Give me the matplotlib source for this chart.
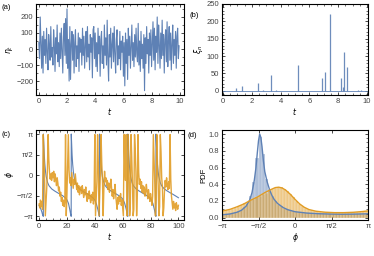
import numpy as np
import matplotlib
matplotlib.use('Agg')
import matplotlib.pyplot as plt
from matplotlib.ticker import MultipleLocator, FixedLocator

plt.rcParams['font.family'] = ['Liberation Sans', 'DejaVu Sans']
plt.rcParams['font.size'] = 5.5
plt.rcParams['mathtext.fontset'] = 'dejavusans'

BLUE = '#5E81B5'
ORANGE = '#E19C24'
TICKCOL = '#444444'

# ---------------- data ----------------
# (a) noise eta_t, sampled every 0.05 from t=0 to t=9.95
eta = [
    40, -60, 200, 30, -120, 80, -150, 110, -40, 60, -90, 130, -20, -130, 90, 20, -70, 140, -50, 10,
    -100, 120, 30, -140, 70, -30, 150, -80, 40, -110, 100, -60, 130, 0, -150, 80, 160, -40, 190, -90,
    250, -120, 60, -200, 140, -190, 30, 110, -70, 90, -150, 40, 120, -110, 20, -60, 100, -140, 70, -20,
    60, -100, 130, -40, 80, -120, 20, 110, -80, 140, -50, 30, -130, 90, -20, 70, -180, 120, 140, -60,
    100, -110, 40, -140, 130, -30, 80, -170, 60, 110, -90, 20, -120, 150, -40, 70, -100, 180, -60, -200,
    90, -50, 130, -120, 30, 100, -80, 140, -30, -150, 60, 120, -100, 20, -60, 110, -130, 50, -20, 80,
    -170, 40, -230, 100, -90, 60, -190, 130, -40, 80, -120, 20, 150, -70, 40, -110, 90, -50, 130, -30,
    -80, 160, -100, 50, -140, 110, -60, 30, -120, 90, -260, 70, -90, 140, -30, 60, -150, 100, -40, 120,
    -110, 40, 170, -70, 130, -130, 80, -20, 200, -90, 150, 30, -120, 100, -60, 180, -40, 90, -150, 60,
    120, -80, 170, -110, 50, 140, -70, 100, -130, 30, 150, -90, 60, -40, 110, -120, 80, 130, -60, 20,
]
t_a = np.arange(len(eta)) * 0.05

# (b) kicks xi_n
spike_t = [0.9, 1.3, 2.45, 2.75, 3.35, 3.65, 5.2, 6.9, 7.05, 7.4, 8.2, 8.3, 8.4, 8.6, 9.4, 9.6]
spike_h = [8, 14, 22, 3, 47, 3, 75, 36, 54, 222, 38, 12, 113, 70, 2, 2]

# (c) phase, blue (deterministic) and orange (noisy)
blue_t = [0, 1, 2, 2.6, 3.05,
          3.1, 3.4, 3.7, 4.1, 4.6, 5.1, 6.1, 7.1, 9.1, 11.1, 13.1, 15.1, 17.1, 19.1, 20.1, 21.1, 22.0, 22.6, 23.05,
          23.1, 23.4, 23.7, 24.1, 24.6, 25.1, 26.1, 27.1, 29.1, 31.1, 33.1, 35.1, 37.1, 39.1, 40.1, 41.1, 42.2, 42.9, 43.35,
          43.4, 43.7, 44.0, 44.4, 44.9, 45.4, 46.4, 47.4, 49.4, 51.4, 53.4, 55.4, 57.4, 59.4, 60.4, 61.4, 62.5, 63.2, 63.65,
          63.7, 64.0, 64.3, 64.7, 65.2, 65.7, 66.7, 67.7, 69.7, 71.7, 73.7, 75.7, 77.7, 79.7, 80.7, 81.7, 82.7, 83.4, 83.85,
          83.9, 84.2, 84.5, 84.9, 85.4, 85.9, 86.9, 87.9, 89.9, 91.9, 93.9, 95.9, 97.9, 100]
blue_phi = [-2.3, -2.5, -2.8, -3.05, -3.14,
            3.14, 2.4, 1.6, 0.9, 0.3, -0.1, -0.55, -0.8, -1.05, -1.2, -1.33, -1.45, -1.58, -1.75, -1.9, -2.15, -2.6, -2.95, -3.14,
            3.14, 2.35, 1.55, 0.85, 0.28, -0.12, -0.57, -0.82, -1.06, -1.21, -1.34, -1.46, -1.6, -1.77, -1.92, -2.18, -2.62, -2.96, -3.14,
            3.14, 2.42, 1.62, 0.92, 0.31, -0.09, -0.54, -0.79, -1.04, -1.19, -1.32, -1.44, -1.57, -1.74, -1.89, -2.14, -2.58, -2.94, -3.14,
            3.14, 2.38, 1.58, 0.88, 0.29, -0.11, -0.56, -0.81, -1.05, -1.2, -1.33, -1.45, -1.59, -1.76, -1.91, -2.16, -2.6, -2.95, -3.14,
            3.14, 2.4, 1.6, 0.9, 0.3, -0.1, -0.55, -0.8, -1.05, -1.2, -1.33, -1.45, -1.58, -1.72]

# orange phase, sampled every 0.5 from t=0 to t=100
orange_phi = [
    -2.2, -2.5, -1.9, -2.4, -2.0, -2.6, 3.1, 1.5, -0.5, -3.1, -2.0, -1.0, 0.5, 3.1, 1.2, 0.2, -0.3, 0.1, -0.4, 0.2,
    -0.2, 0.3, -0.5, 0.1, -0.3, -0.8, -0.2, -0.6, -1.2, -0.9, -1.6, -1.3, -2.0, -1.7, -2.3, -1.9, -2.4, -2.0, 3.1, -3.1,
    -1.5, 0.8, 3.1, 0.4, -0.6, -0.2, -0.8, 0.2, -0.4, -1.0, -0.3, -0.7, 0.1, -0.5, -1.1, -0.6, -1.3, -0.8, -1.5, -1.0,
    -0.9, -1.4, -0.8, -1.2, -1.7, -1.1, -1.5, -0.9, -1.6, -2.0, -1.4, -1.8, -1.2, -1.7, -2.1, -1.5, -1.9, -1.3, -2.2, -1.6,
    3.1, -3.1, -1.8, -0.5, 3.1, 1.0, -3.1, -1.4, 0.2, 3.1, 0.9, -0.4, -3.1, -1.0, 0.3, -0.5, -0.2, -0.8, -0.4, -1.1,
    -0.6, -1.3, -0.9, -0.3, -1.0, -1.6, -1.1, -1.8, -1.3, -0.7, -1.5, -2.1, -2.6, -1.7, -2.2, -1.6, -2.0, -1.4, -2.3, -1.9,
    -2.5, -3.1, 3.1, 0.8, -0.4, 3.1, -3.1, -1.2, 3.1, 0.5, -3.1, -2.2, 3.1, 1.4, -0.6, -3.1, -2.6, 3.1, 2.0, 0.3,
    -3.1, -1.5, 3.1, 0.2, -0.7, -0.3, -1.0, -0.5, -1.3, -0.8, -1.4, -0.9, -1.6, -1.2, -0.7, -1.3, -1.8, -1.1, -1.5, -2.0,
    -1.4, -1.8, -2.3, -1.6, 3.1, 1.2, -0.5, -3.1, -1.9, 3.1, 0.6, -0.8, -3.1, -2.4, 3.1, 1.8, -0.2, -0.9, -3.1, -2.5,
    -1.2, -0.4, -0.9, -0.2, -0.7, -1.1, -0.5, -1.0, 3.1, -0.3, -1.6, -2.1, -2.6, -2.0, -2.5, -2.2, -2.7, -2.1, -2.4, -2.6, -2.3,
]
t_o = np.arange(len(orange_phi)) * 0.5

# (d) histograms (48 bins on [-pi, pi]) and PDF curves
hist_blue = [0.036, 0.041, 0.044, 0.052, 0.058, 0.077, 0.088, 0.128, 0.166, 0.255, 0.43, 0.71,
             0.97, 0.76, 0.46, 0.345, 0.255, 0.205, 0.158, 0.138, 0.108, 0.102, 0.088, 0.077,
             0.069, 0.067, 0.059, 0.058, 0.054, 0.053, 0.049, 0.048, 0.046, 0.047, 0.043, 0.044,
             0.042, 0.043, 0.041, 0.042, 0.041, 0.043, 0.042, 0.044, 0.043, 0.045, 0.046, 0.047]
hist_orange = [0.082, 0.091, 0.098, 0.11, 0.12, 0.137, 0.148, 0.172, 0.183, 0.207, 0.218, 0.247,
               0.258, 0.283, 0.298, 0.327, 0.338, 0.357, 0.363, 0.362, 0.343, 0.322, 0.283, 0.247,
               0.198, 0.167, 0.138, 0.117, 0.099, 0.091, 0.081, 0.077, 0.071, 0.069, 0.064, 0.064,
               0.061, 0.062, 0.06, 0.061, 0.06, 0.064, 0.063, 0.067, 0.068, 0.074, 0.076, 0.082]

pdf_blue_x = [-3.14, -2.8, -2.5, -2.3, -2.1, -1.95, -1.85, -1.75, -1.68, -1.62, -1.57, -1.52, -1.47,
              -1.42, -1.36, -1.3, -1.2, -1.1, -1.0, -0.9, -0.75, -0.5, -0.3, 0.0, 0.5, 1.0, 1.5,
              2.0, 2.5, 3.14]
pdf_blue_y = [0.035, 0.045, 0.065, 0.09, 0.14, 0.21, 0.3, 0.45, 0.6, 0.78, 0.92, 1.0, 0.96,
              0.85, 0.68, 0.55, 0.43, 0.34, 0.27, 0.22, 0.17, 0.12, 0.095, 0.072, 0.056, 0.048, 0.044,
              0.042, 0.043, 0.047]
pdf_orange_x = [-3.14, -2.8, -2.5, -2.2, -1.9, -1.6, -1.3, -1.05, -0.85, -0.7, -0.55, -0.4, -0.2,
                0.0, 0.2, 0.4, 0.6, 0.9, 1.3, 1.7, 2.1, 2.5, 2.9, 3.14]
pdf_orange_y = [0.08, 0.1, 0.13, 0.165, 0.21, 0.25, 0.3, 0.335, 0.36, 0.365, 0.355, 0.33, 0.28,
                0.22, 0.165, 0.125, 0.098, 0.078, 0.066, 0.061, 0.061, 0.065, 0.074, 0.082]


def style_axes(ax):
    for sp in ax.spines.values():
        sp.set_linewidth(0.8)
        sp.set_color('black')
    ax.tick_params(which='both', direction='in', top=True, right=True,
                   colors='black', labelcolor=TICKCOL, labelsize=5.5, pad=2)
    ax.tick_params(which='major', length=2.2, width=0.5)
    ax.tick_params(which='minor', length=1.2, width=0.4)


fig = plt.figure(figsize=(3.74, 2.56), dpi=100)
W, H = 374.0, 256.0
ax_a = fig.add_axes([36 / W, 1 - 95 / H, 148 / W, 91 / H])
ax_b = fig.add_axes([222 / W, 1 - 95 / H, 146 / W, 91 / H])
ax_c = fig.add_axes([36 / W, 1 - 220 / H, 148 / W, 90 / H])
ax_d = fig.add_axes([222 / W, 1 - 220 / H, 146 / W, 90 / H])

# (a)
ax_a.plot(t_a, eta, color=BLUE, lw=0.8)
ax_a.set_xlim(-0.2, 10.3)
ax_a.set_ylim(-287, 281)
ax_a.xaxis.set_major_locator(MultipleLocator(2))
ax_a.xaxis.set_minor_locator(MultipleLocator(0.5))
ax_a.yaxis.set_major_locator(MultipleLocator(100))
ax_a.yaxis.set_minor_locator(MultipleLocator(50))
ax_a.set_xlabel('$t$', labelpad=1)
ax_a.set_ylabel(r'$\eta_t$', labelpad=1)
style_axes(ax_a)

# (b)
ax_b.plot([0, 10], [0, 0], color=BLUE, lw=0.6)
ax_b.vlines(spike_t, 0, spike_h, color=BLUE, lw=0.9, alpha=0.9)
ax_b.set_xlim(-0.07, 10.07)
ax_b.set_ylim(-12, 250)
ax_b.xaxis.set_major_locator(MultipleLocator(2))
ax_b.xaxis.set_minor_locator(MultipleLocator(0.5))
ax_b.yaxis.set_major_locator(MultipleLocator(50))
ax_b.yaxis.set_minor_locator(MultipleLocator(10))
ax_b.set_xlabel('$t$', labelpad=1)
ax_b.set_ylabel(r'$\xi_n$', labelpad=1)
style_axes(ax_b)

# (c)
ax_c.plot(blue_t, blue_phi, color=BLUE, lw=0.8)
ax_c.plot(t_o, orange_phi, color=ORANGE, lw=1.0, alpha=0.9)
ax_c.set_xlim(-2.2, 104)
ax_c.set_ylim(-3.42, 3.45)
ax_c.xaxis.set_major_locator(MultipleLocator(20))
ax_c.xaxis.set_minor_locator(MultipleLocator(5))
ax_c.yaxis.set_major_locator(FixedLocator([-np.pi, -np.pi / 2, 0, np.pi / 2, np.pi]))
ax_c.set_yticklabels(['−π', '−π/2', '0', 'π/2', 'π'])
ax_c.set_xlabel('$t$', labelpad=1)
ax_c.set_ylabel(r'$\phi$', labelpad=1)
style_axes(ax_c)

# (d)
edges = np.linspace(-np.pi, np.pi, len(hist_blue) + 1)
centers = 0.5 * (edges[:-1] + edges[1:])
bw = edges[1] - edges[0]
ax_d.bar(centers, hist_blue, width=bw, color=BLUE, alpha=0.5,
         edgecolor=(1, 1, 1, 0.35), linewidth=0.3)
ax_d.plot(pdf_blue_x, pdf_blue_y, color=BLUE, lw=1.0)
ax_d.bar(centers, hist_orange, width=bw, color=ORANGE, alpha=0.55,
         edgecolor=(1, 1, 1, 0.35), linewidth=0.3)
ax_d.plot(pdf_orange_x, pdf_orange_y, color=ORANGE, lw=1.0)
ax_d.set_xlim(-np.pi, np.pi)
ax_d.set_ylim(-0.027, 1.048)
ax_d.xaxis.set_major_locator(FixedLocator([-np.pi, -np.pi / 2, 0, np.pi / 2, np.pi]))
ax_d.set_xticklabels(['−π', '−π/2', '0', 'π/2', 'π'])
ax_d.yaxis.set_major_locator(MultipleLocator(0.2))
ax_d.yaxis.set_minor_locator(MultipleLocator(0.05))
ax_d.yaxis.set_major_formatter(matplotlib.ticker.FormatStrFormatter('%.1f'))
ax_d.set_xlabel(r'$\phi$', labelpad=1)
ax_d.set_ylabel('PDF', labelpad=1)
style_axes(ax_d)

for txt, x, y in [('(a)', 1, 9), ('(b)', 189, 17), ('(c)', 1, 136), ('(d)', 188, 137)]:
    fig.text(x / W, 1 - y / H, txt, fontsize=5.5, color='black')

fig.savefig('out.png', dpi=100)
